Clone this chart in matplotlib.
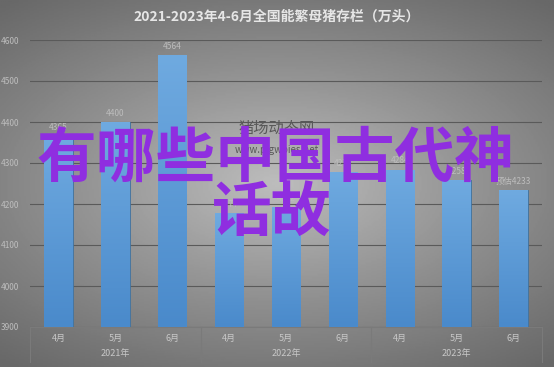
import matplotlib.pyplot as plt
import numpy as np
from matplotlib.colors import LinearSegmentedColormap

plt.rcParams['font.family'] = ['Noto Sans CJK SC', 'DejaVu Sans']

years = ['2021年', '2022年', '2023年']
months = ['4月', '5月', '6月']
values = [4365, 4400, 4564, 4177, 4192, 4277, 4284, 4258, 4233]
value_labels = ['4365', '4400', '4564', '4177', '4192', '4277', '4284', '4258', '预估4233']
yticks = [3900, 4000, 4100, 4200, 4300, 4400, 4500, 4600]

fig = plt.figure(figsize=(5.54, 3.67), dpi=100)

# dark background, lighter in the middle
bg = fig.add_axes([0, 0, 1, 1], zorder=-10)
xx, yy = np.meshgrid(np.linspace(-1, 1, 300), np.linspace(-1, 1, 200))
r = np.sqrt((xx * 0.9) ** 2 + (yy * 1.1) ** 2)
bg.imshow(np.clip(r, 0, 1.4), cmap='Greys', vmin=-1.8, vmax=3.0, aspect='auto', extent=[0, 1, 0, 1])
bg.set_axis_off()

W, H = 554, 367
ax = fig.add_axes([30 / W, 1 - 327 / H, 512 / W, (327 - 40) / H])
ax.set_facecolor('none')

x = np.arange(len(values))
bars = ax.bar(x, [v - 3900 for v in values], bottom=3900, width=0.5,
              color='#5b9bd5', edgecolor='#41719c', linewidth=0.6, zorder=3)

# vertical gradient inside each bar
grad = np.linspace(0, 1, 100).reshape(-1, 1)
cmap = LinearSegmentedColormap.from_list('b', ['#4a8acb', '#6faae0'])
for b in bars:
    bx, by = b.get_x(), b.get_y()
    im = ax.imshow(grad, cmap=cmap, aspect='auto', origin='lower',
                   extent=[bx, bx + b.get_width(), by, by + b.get_height()], zorder=3)
    im.set_clip_path(b)

for xi, v, lab in zip(x, values, value_labels):
    ax.text(xi, v + 10, lab, ha='center', va='bottom', fontsize=6, color='#bdbdbd', zorder=4)

ax.set_xlim(-0.5, len(values) - 0.5)
ax.set_ylim(3900, 4600)
ax.set_yticks(yticks)
ax.set_yticklabels([str(t) for t in yticks], fontsize=6, color='#bdbdbd')
ax.tick_params(axis='y', length=0, pad=8)
ax.set_xticks([])
ax.grid(axis='y', color='#5a5a5a', linewidth=0.8, zorder=0)
for s in ['top', 'right', 'left']:
    ax.spines[s].set_visible(False)
ax.spines['bottom'].set_color('#7a7a7a')

# two-level category axis
for i, lab in enumerate(months * 3):
    ax.text(i, -0.04, lab, transform=ax.get_xaxis_transform(), ha='center', va='center',
            fontsize=6.5, color='#c8c8c8')
for j, yl in enumerate(years):
    ax.text(3 * j + 1, -0.093, yl, transform=ax.get_xaxis_transform(), ha='center', va='center',
            fontsize=6.5, color='#c8c8c8')
for k in range(4):
    ax.plot([3 * k - 0.5] * 2, [0, -0.122], transform=ax.get_xaxis_transform(),
            color='#7a7a7a', linewidth=0.8, clip_on=False)

fig.text(0.5, 1 - 17 / H, '2021-2023年4-6月全国能繁母猪存栏（万头）', ha='center', va='center',
         fontsize=10, fontweight='bold', color='#e6e6e6')

# faint site watermark
fig.text(0.5, 1 - 128 / H, '猪场动态网', ha='center', va='center', fontsize=11, color='#585858', zorder=5)
fig.text(0.5, 1 - 150 / H, 'www.pigwpies.net', ha='center', va='center', fontsize=7, color='#585858', zorder=5)

# overlay text
fig.text(276 / W, 1 - 160 / H, '有哪些中国古代神', ha='center', va='center',
         fontsize=43, fontweight='bold', color='#8f2ee0', zorder=10)
fig.text(272 / W, 1 - 214 / H, '话故', ha='center', va='center',
         fontsize=43, fontweight='bold', color='#8f2ee0', zorder=10)

fig.savefig('out.png', dpi=100)
